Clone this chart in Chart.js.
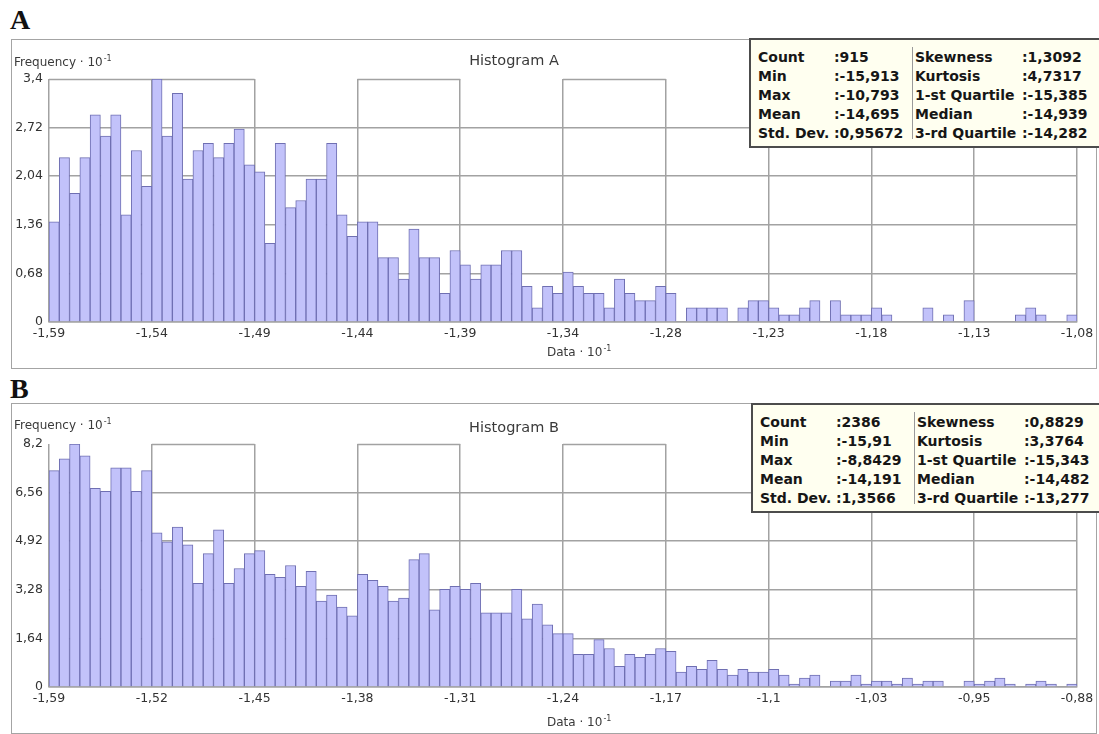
<!DOCTYPE html>
<html>
<head>
<meta charset="utf-8">
<script src="https://cdn.jsdelivr.net/npm/chart.js@4.4.1/dist/chart.umd.min.js"></script>
<style>
  html, body { margin: 0; padding: 0; background: #fff; }
  body { position: relative; width: 1099px; height: 734px; overflow: hidden;
         font-family: 'DejaVu Sans', Verdana, sans-serif; color: #333; }
  .tag { position: absolute; left: 10px; font: bold 28px 'Liberation Serif', 'Times New Roman', serif;
         line-height: 28px; color: #111; }
  .frame { position: absolute; left: 11px; width: 1084px; border: 1px solid #a4a4a4; }
  canvas { position: absolute; }
  .txt { position: absolute; font-size: 12px; line-height: 14px; white-space: nowrap; color: #3a3a3a; }
  .title { font-size: 14.5px; line-height: 16px; transform: translateX(-50%); }
  .txt sup { font-size: 8px; vertical-align: 5px; line-height: 0; margin-left: 1px; }
  .stats { position: absolute; width: 360px; height: 106px; background: #fffff0; border: 2px solid #4c4c4c; }
  .stats span { position: absolute; font: bold 14px 'DejaVu Sans', Verdana, sans-serif; line-height: 19px;
                color: #161616; white-space: nowrap; }
  .stats .sep { position: absolute; left: 161px; top: 7px; bottom: 7px; width: 1px; background: #9a9a9a; }
</style>
</head>
<body>

<div class="tag" style="top:6px">A</div>
<div class="frame" style="top:39px;height:328px"></div>
<canvas id="histA" width="1084" height="327" style="left:12px;top:40px"></canvas>
<div class="txt" style="left:14px;top:55px">Frequency · 10<sup>-1</sup></div>
<div class="txt title" style="left:514px;top:52px">Histogram A</div>
<div class="txt" style="left:547px;top:345px">Data · 10<sup>-1</sup></div>
<div class="stats" id="statsA" style="left:749px;top:38px"></div>

<div class="tag" style="top:375px">B</div>
<div class="frame" style="top:403px;height:329px"></div>
<canvas id="histB" width="1084" height="328" style="left:12px;top:404px"></canvas>
<div class="txt" style="left:14px;top:418px">Frequency · 10<sup>-1</sup></div>
<div class="txt title" style="left:514px;top:419px">Histogram B</div>
<div class="txt" style="left:547px;top:715px">Data · 10<sup>-1</sup></div>
<div class="stats" id="statsB" style="left:751px;top:403px"></div>

<script>
// Histogram A: bin frequencies (·10^-1), 100 equal-width bins
const freqA = [
  1.4, 2.3, 1.8, 2.3, 2.9, 2.6, 2.9, 1.5, 2.4, 1.9,
  3.4, 2.6, 3.2, 2.0, 2.4, 2.5, 2.3, 2.5, 2.7, 2.2,
  2.1, 1.1, 2.5, 1.6, 1.7, 2.0, 2.0, 2.5, 1.5, 1.2,
  1.4, 1.4, 0.9, 0.9, 0.6, 1.3, 0.9, 0.9, 0.4, 1.0,
  0.8, 0.6, 0.8, 0.8, 1.0, 1.0, 0.5, 0.2, 0.5, 0.4,
  0.7, 0.5, 0.4, 0.4, 0.2, 0.6, 0.4, 0.3, 0.3, 0.5,
  0.4, 0, 0.2, 0.2, 0.2, 0.2, 0, 0.2, 0.3, 0.3,
  0.2, 0.1, 0.1, 0.2, 0.3, 0, 0.3, 0.1, 0.1, 0.1,
  0.2, 0.1, 0, 0, 0, 0.2, 0, 0.1, 0, 0.3,
  0, 0, 0, 0, 0.1, 0.2, 0.1, 0, 0, 0.1
];
const xTicksA = ['-1,59', '-1,54', '-1,49', '-1,44', '-1,39', '-1,34', '-1,28', '-1,23', '-1,18', '-1,13', '-1,08'];
const yTicksA = [0, 0.68, 1.36, 2.04, 2.72, 3.4];

// Histogram B: bin frequencies (·10^-1), 100 equal-width bins
const freqB = [
  7.3, 7.7, 8.2, 7.8, 6.7, 6.6, 7.4, 7.4, 6.6, 7.3,
  5.2, 4.9, 5.4, 4.8, 3.5, 4.5, 5.3, 3.5, 4.0, 4.5,
  4.6, 3.8, 3.7, 4.1, 3.4, 3.9, 2.9, 3.1, 2.7, 2.4,
  3.8, 3.6, 3.4, 2.9, 3.0, 4.3, 4.5, 2.6, 3.3, 3.4,
  3.3, 3.5, 2.5, 2.5, 2.5, 3.3, 2.3, 2.8, 2.1, 1.8,
  1.8, 1.1, 1.1, 1.6, 1.3, 0.7, 1.1, 1.0, 1.1, 1.3,
  1.2, 0.5, 0.7, 0.6, 0.9, 0.6, 0.4, 0.6, 0.5, 0.5,
  0.6, 0.4, 0.1, 0.3, 0.4, 0, 0.2, 0.2, 0.4, 0.1,
  0.2, 0.2, 0.1, 0.3, 0.1, 0.2, 0.2, 0, 0, 0.2,
  0.1, 0.2, 0.3, 0.1, 0, 0.1, 0.2, 0.1, 0, 0.1
];
const xTicksB = ['-1,59', '-1,52', '-1,45', '-1,38', '-1,31', '-1,24', '-1,17', '-1,1', '-1,03', '-0,95', '-0,88'];
const yTicksB = [0, 1.64, 3.28, 4.92, 6.56, 8.2];

// Summary statistics shown in the boxes
const statNamesLeft = ['Count', 'Min', 'Max', 'Mean', 'Std. Dev.'];
const statNamesRight = ['Skewness', 'Kurtosis', '1-st Quartile', 'Median', '3-rd Quartile'];
const statsA_left = [':915', ':-15,913', ':-10,793', ':-14,695', ':0,95672'];
const statsA_right = [':1,3092', ':4,7317', ':-15,385', ':-14,939', ':-14,282'];
const statsB_left = [':2386', ':-15,91', ':-8,8429', ':-14,191', ':1,3566'];
const statsB_right = [':0,8829', ':3,3764', ':-15,343', ':-14,482', ':-13,277'];

// Intervals (between major x ticks) that carry the top frame segment
const topRunsA = [0, 1, 3, 5, 7, 9];
const topRunsB = [1, 3, 5, 7, 9];

const GRID = '#a2a2a2';
const TICK_FONT = { family: "'DejaVu Sans', Verdana, sans-serif", size: 12.5 };
const comma = v => String(v).replace('.', ',');

// Draws the top grid line only over the selected tick intervals
const topSegments = {
  id: 'topSegments',
  beforeDatasetsDraw(chart, args, opts) {
    const xs = chart.scales.x, ys = chart.scales.y, ctx = chart.ctx;
    const step = xs.max / (opts.intervals);
    const y = Math.round(ys.getPixelForValue(ys.max)) + 0.5;
    ctx.save();
    ctx.strokeStyle = GRID;
    ctx.lineWidth = 1.5;
    opts.runs.forEach(k => {
      ctx.beginPath();
      ctx.moveTo(xs.getPixelForValue(k * step), y);
      ctx.lineTo(xs.getPixelForValue((k + 1) * step), y);
      ctx.stroke();
    });
    ctx.restore();
  }
};

function makeHistogram(id, values, xLabels, yTicks, runs, padTop) {
  const n = values.length;
  const yMax = yTicks[yTicks.length - 1];
  const per = n / (xLabels.length - 1);
  return new Chart(document.getElementById(id), {
    type: 'bar',
    data: {
      datasets: [{
        data: values.map((v, i) => ({ x: i + 0.5, y: v })),
        backgroundColor: '#c2c2fa',
        borderColor: '#6f6fb2',
        borderWidth: 1,
        barPercentage: 1,
        categoryPercentage: 1
      }]
    },
    options: {
      responsive: false,
      maintainAspectRatio: false,
      devicePixelRatio: 1,
      animation: false,
      events: [],
      layout: { padding: { left: 0, right: 19, top: padTop, bottom: 21 } },
      plugins: {
        legend: { display: false },
        title: { display: false },
        tooltip: { enabled: false },
        topSegments: { runs: runs, intervals: xLabels.length - 1 }
      },
      scales: {
        x: {
          type: 'linear', min: 0, max: n, offset: false,
          afterBuildTicks: s => { s.ticks = xLabels.map((_, i) => ({ value: i * per })); },
          afterFit: s => { s.height = 24; s.paddingLeft = 0; s.paddingRight = 0; },
          ticks: { autoSkip: false, maxRotation: 0, padding: 4, color: '#333',
                   font: TICK_FONT, callback: (v, i) => xLabels[i] },
          grid: { offset: false, drawTicks: false, color: GRID, lineWidth: 1.5 },
          border: { display: true, color: GRID, width: 1.5 }
        },
        y: {
          min: 0, max: yMax,
          afterBuildTicks: s => { s.ticks = yTicks.map(v => ({ value: v })); },
          afterFit: s => { s.width = 37; s.paddingTop = 0; s.paddingBottom = 0; },
          ticks: { padding: 6, color: '#333', font: TICK_FONT, callback: v => comma(v) },
          grid: { drawTicks: false, lineWidth: 1.5,
                  color: c => (c.tick && c.tick.value === yMax) ? 'rgba(0,0,0,0)' : GRID },
          border: { display: false }
        }
      }
    },
    plugins: [topSegments]
  });
}

function fillStats(id, left, right) {
  const box = document.getElementById(id);
  const cols = [
    { x: 7, items: statNamesLeft }, { x: 83, items: left },
    { x: 164, items: statNamesRight }, { x: 271, items: right }
  ];
  cols.forEach(col => col.items.forEach((t, r) => {
    const s = document.createElement('span');
    s.textContent = t;
    s.style.left = col.x + 'px';
    s.style.top = (8 + r * 19) + 'px';
    box.appendChild(s);
  }));
  const sep = document.createElement('div');
  sep.className = 'sep';
  box.appendChild(sep);
}

makeHistogram('histA', freqA, xTicksA, yTicksA, topRunsA, 39);
makeHistogram('histB', freqB, xTicksB, yTicksB, topRunsB, 40);
fillStats('statsA', statsA_left, statsA_right);
fillStats('statsB', statsB_left, statsB_right);
</script>
</body>
</html>
